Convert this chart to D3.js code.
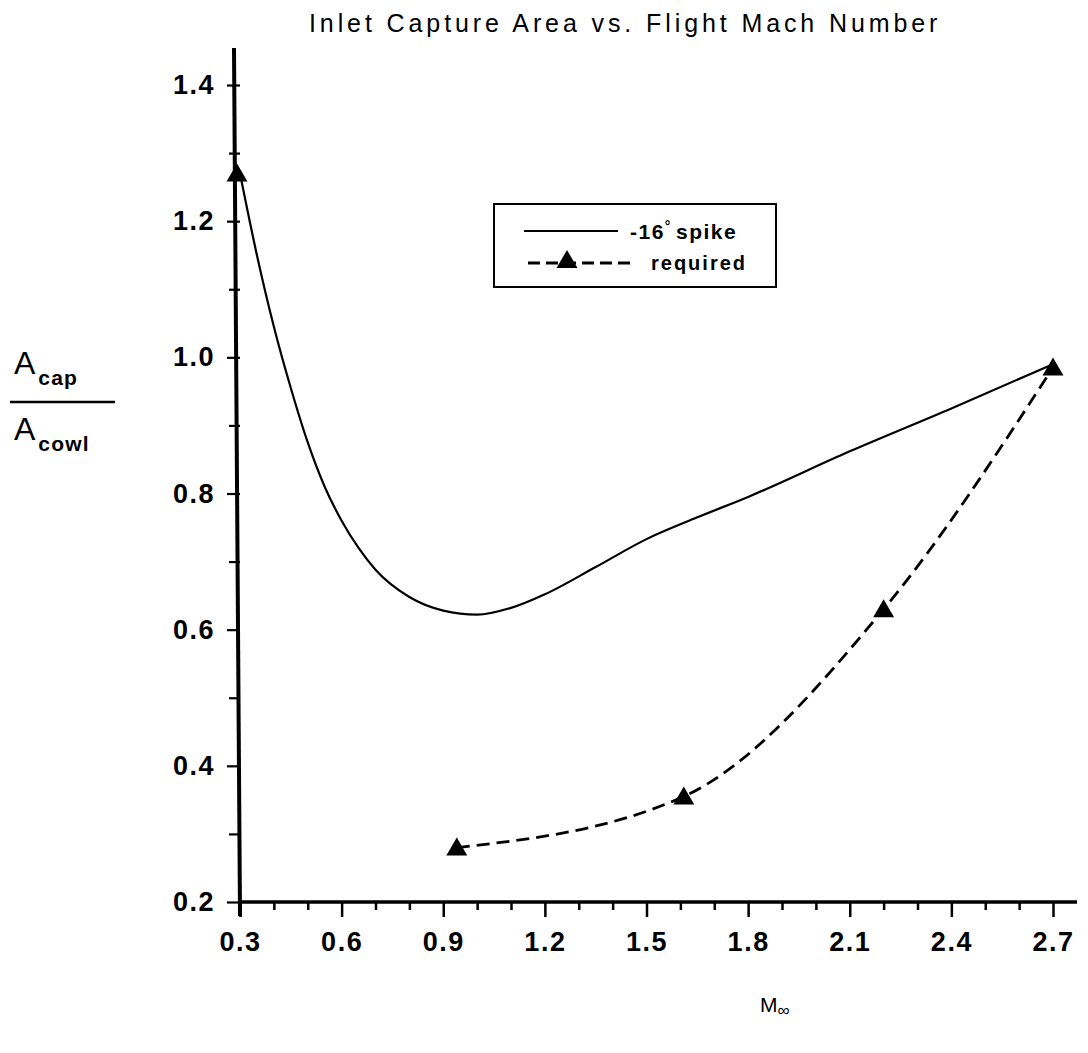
<!DOCTYPE html>
<html>
<head>
<meta charset="utf-8">
<script src="https://cdn.jsdelivr.net/npm/d3@7"></script>
<style>
  html, body { margin: 0; padding: 0; background: #fff; }
  svg { display: block; }
</style>
</head>
<body>
<svg id="chart" width="1088" height="1053"></svg>
<script>
// ---- data ----
const spikeMach = [0.3, 0.35, 0.4, 0.45, 0.5, 0.55, 0.6, 0.65, 0.7, 0.8, 0.9, 1.0, 1.1, 1.2, 1.35, 1.5, 1.65, 1.8, 2.1, 2.4, 2.7];
const spikeArea = [1.27, 1.15, 1.045, 0.955, 0.875, 0.81, 0.76, 0.72, 0.688, 0.648, 0.628, 0.622, 0.632, 0.652, 0.692, 0.733, 0.765, 0.795, 0.862, 0.925, 0.99];
const requiredMach = [0.3, 0.94, 1.61, 2.2, 2.7];
const requiredArea = [1.27, 0.28, 0.355, 0.63, 0.985];
const xTickValues = [0.3,0.4,0.5,0.6,0.7,0.8,0.9,1.0,1.1,1.2,1.3,1.4,1.5,1.6,1.7,1.8,1.9,2.0,2.1,2.2,2.3,2.4,2.5,2.6,2.7];
const xMajorLabels = ["0.3","0.6","0.9","1.2","1.5","1.8","2.1","2.4","2.7"];
const yTickValues = [0.2,0.3,0.4,0.5,0.6,0.7,0.8,0.9,1.0,1.1,1.2,1.3,1.4];
const yMajorLabels = ["0.2","0.4","0.6","0.8","1.0","1.2","1.4"];
const titleText = "Inlet Capture Area vs. Flight Mach Number";
const legendLabels = ["-16", "required"];

// ---- drawing ----
const svg = d3.select("#chart");
const x = d3.scaleLinear().domain([0.3, 2.7]).range([240, 1053]);
const y = d3.scaleLinear().domain([0.2, 1.4]).range([902, 85]);

const labelFont = "'Liberation Sans', Arial, sans-serif";

// title
svg.append("text")
  .attr("x", 309).attr("y", 32)
  .attr("text-anchor", "start")
  .attr("font-family", labelFont)
  .attr("font-size", 25)
  .attr("letter-spacing", 3.9)
  .attr("fill", "#000")
  .text(titleText);

const fmt = d => d.toFixed(1);
const isMajorX = d => xMajorLabels.includes(fmt(d));
const isMajorY = d => yMajorLabels.includes(fmt(d));

// x axis
const gx = svg.append("g").attr("transform", `translate(0,${y(0.2)})`)
  .call(d3.axisBottom(x).tickValues(xTickValues).tickSize(8).tickPadding(22)
    .tickFormat(d => isMajorX(d) ? fmt(d) : ""));
gx.select(".domain").remove();
gx.selectAll(".tick line").attr("stroke", "#000").attr("stroke-width", 2.5)
  .attr("y2", d => isMajorX(d) ? 15 : 8);
gx.selectAll(".tick text")
  .attr("font-family", labelFont).attr("font-weight", "bold")
  .attr("font-size", 27).attr("letter-spacing", 1.5).attr("fill", "#000");

// y axis
const gy = svg.append("g").attr("transform", `translate(${x(0.3)},0)`)
  .call(d3.axisLeft(y).tickValues(yTickValues).tickSize(11).tickPadding(14)
    .tickFormat(d => isMajorY(d) ? fmt(d) : ""));
gy.select(".domain").remove();
gy.selectAll(".tick line").attr("stroke", "#000").attr("stroke-width", 2.2)
  .attr("x2", d => isMajorY(d) ? -13 : -11);
gy.selectAll(".tick text")
  .attr("font-family", labelFont).attr("font-weight", "bold")
  .attr("font-size", 27).attr("letter-spacing", 1.5).attr("fill", "#000");

// axis lines
svg.append("line")
  .attr("x1", x(0.3) - 2).attr("x2", 1077)
  .attr("y1", y(0.2)).attr("y2", y(0.2))
  .attr("stroke", "#000").attr("stroke-width", 3.5);
svg.append("line")
  .attr("x1", x(0.3)).attr("x2", x(0.3) - 6)
  .attr("y1", y(0.2) + 14).attr("y2", 48)
  .attr("stroke", "#000").attr("stroke-width", 4);

// solid curve (-16° spike)
const spikeData = spikeMach.map((m, i) => [m, spikeArea[i]]);
svg.append("path")
  .datum(spikeData)
  .attr("fill", "none").attr("stroke", "#000").attr("stroke-width", 2.2)
  .attr("d", d3.line().x(d => x(d[0])).y(d => y(d[1])).curve(d3.curveMonotoneX));

// dashed required curve
const reqData = requiredMach.map((m, i) => [m, requiredArea[i]]);
svg.append("path")
  .datum(reqData.slice(1))
  .attr("fill", "none").attr("stroke", "#000").attr("stroke-width", 2.8)
  .attr("stroke-dasharray", "13,7")
  .attr("d", d3.line().x(d => x(d[0])).y(d => y(d[1])).curve(d3.curveMonotoneX));

const tri = d3.symbol().type(d3.symbolTriangle).size(190);
svg.selectAll(".req").data(reqData).enter().append("path")
  .attr("class", "req")
  .attr("transform", d => `translate(${x(d[0]) - (d[0] === 0.3 ? 3 : 0)},${y(d[1]) + 2})`)
  .attr("d", tri).attr("fill", "#000");

// legend
const lg = svg.append("g");
lg.append("rect")
  .attr("x", 494).attr("y", 204).attr("width", 282).attr("height", 83)
  .attr("fill", "none").attr("stroke", "#000").attr("stroke-width", 2);
lg.append("line").attr("x1", 524).attr("x2", 618).attr("y1", 231).attr("y2", 231)
  .attr("stroke", "#000").attr("stroke-width", 2.2);
const t1 = lg.append("text").attr("x", 630).attr("y", 239)
  .attr("font-family", labelFont).attr("font-weight", "bold").attr("font-size", 21)
  .attr("letter-spacing", 1.5).attr("fill", "#000");
t1.append("tspan").text(legendLabels[0]);
t1.append("tspan").attr("dy", -8).attr("font-size", 14).text("°");
t1.append("tspan").attr("dy", 8).attr("dx", 4).text("spike");

lg.append("line").attr("x1", 528).attr("x2", 633).attr("y1", 263).attr("y2", 263)
  .attr("stroke", "#000").attr("stroke-width", 2.8).attr("stroke-dasharray", "12,6");
lg.append("path").attr("transform", "translate(567,262)").attr("d", tri).attr("fill", "#000");
lg.append("text").attr("x", 651).attr("y", 270)
  .attr("font-family", labelFont).attr("font-weight", "bold").attr("font-size", 20)
  .attr("letter-spacing", 2).attr("fill", "#000")
  .text(legendLabels[1]);

// y-axis label (fraction)
const yl = svg.append("g").attr("font-family", labelFont).attr("fill", "#000");
const ylt1 = yl.append("text").attr("x", 14).attr("y", 374);
ylt1.append("tspan").attr("font-size", 32).text("A");
ylt1.append("tspan").attr("font-size", 21).attr("font-weight", "bold").attr("letter-spacing", 1.2).attr("dy", 11).attr("dx", 3).text("cap");
yl.append("line").attr("x1", 10).attr("x2", 115).attr("y1", 402).attr("y2", 402)
  .attr("stroke", "#000").attr("stroke-width", 2.5);
const ylt2 = yl.append("text").attr("x", 14).attr("y", 440);
ylt2.append("tspan").attr("font-size", 32).text("A");
ylt2.append("tspan").attr("font-size", 21).attr("font-weight", "bold").attr("letter-spacing", 1.2).attr("dy", 11).attr("dx", 3).text("cowl");

// x-axis label
const xl = svg.append("text").attr("x", 760).attr("y", 1012)
  .attr("font-family", labelFont).attr("fill", "#000");
xl.append("tspan").attr("font-size", 21).text("M");
xl.append("tspan").attr("font-size", 17).attr("dy", 4).text("∞");
</script>
</body>
</html>
